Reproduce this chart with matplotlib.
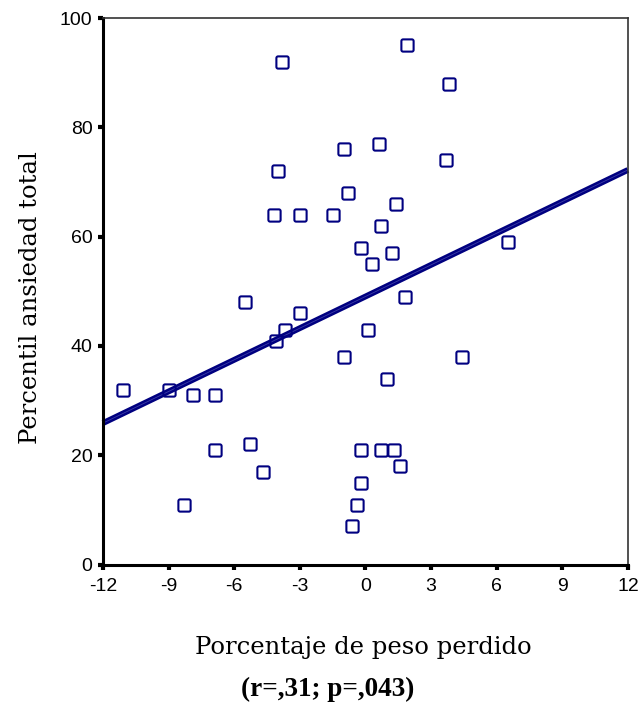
import numpy as np
import matplotlib
matplotlib.use("Agg")
import matplotlib.pyplot as plt
from matplotlib.path import Path

# Weight lost (%) and total anxiety percentile for each subject
peso_perdido = [-11.1, -9.0, -7.9, -6.9, -8.3, -6.9, -5.3, -4.7, -5.5, -4.1,
                -3.7, -3.0, -3.8, -4.0, -4.2, -3.0, -1.5, -1.0, -0.8, -1.0,
                -0.2, 0.3, 0.7, 0.6, 1.4, 1.2, 1.8, 0.1, 1.0, -0.2,
                -0.2, -0.4, -0.6, 0.7, 1.3, 1.6, 1.9, 3.8, 3.7, 4.4, 6.5]
ansiedad_total = [32, 32, 31, 31, 11, 21, 22, 17, 48, 41,
                  43, 46, 92, 72, 64, 64, 64, 76, 68, 38,
                  58, 55, 62, 77, 66, 57, 49, 43, 34, 21,
                  15, 11, 7, 21, 21, 18, 95, 88, 74, 38, 59]

# Least-squares fit line (intercept, slope)
fit_intercept = 49.05
fit_slope = 1.93

x_ticks = [-12, -9, -6, -3, 0, 3, 6, 9, 12]
y_ticks = [0, 20, 40, 60, 80, 100]

navy = "#000080"

# Hollow square marker with rounded corners
def rounded_square(r=0.28, n=8):
    verts = []
    corners = [(1 - r, 1 - r, 0), (-1 + r, 1 - r, 90),
               (-1 + r, -1 + r, 180), (1 - r, -1 + r, 270)]
    for cx, cy, a0 in corners:
        for t in np.linspace(np.radians(a0), np.radians(a0 + 90), n):
            verts.append((cx + r * np.cos(t), cy + r * np.sin(t)))
    verts.append(verts[0])
    codes = [Path.MOVETO] + [Path.LINETO] * (len(verts) - 2) + [Path.CLOSEPOLY]
    return Path(verts, codes)

fig = plt.figure(figsize=(6.42, 7.08), dpi=100)
ax = fig.add_axes([0.1604, 0.2025, 0.8176, 0.772])

ax.set_xlim(-12, 12)
ax.set_ylim(0, 100)

xs = np.array(x_ticks[::len(x_ticks) - 1], dtype=float)
ys = fit_intercept + fit_slope * xs
ax.plot(xs, ys, color=navy, lw=4.2, solid_capstyle="butt", zorder=2, clip_on=False)
ax.plot(xs, ys, color="#3c3ca8", lw=0.6, solid_capstyle="butt", zorder=2.1, clip_on=False)

ax.plot(peso_perdido, ansiedad_total, linestyle="none", marker=rounded_square(),
        markersize=8.8, markerfacecolor="none", markeredgecolor=navy,
        markeredgewidth=1.5, zorder=3)

ax.set_xticks(x_ticks)
ax.set_yticks(y_ticks)
ax.set_xticklabels([str(v) for v in x_ticks])
ax.set_yticklabels([str(v) for v in y_ticks])
ax.tick_params(direction="out", length=3.5, width=3, color="black", labelsize=14)
ax.tick_params(axis="x", pad=6)
ax.tick_params(axis="y", pad=4)
for lab in ax.get_xticklabels() + ax.get_yticklabels():
    lab.set_fontfamily("Liberation Sans")

for side in ("left", "bottom"):
    ax.spines[side].set_linewidth(2.2)
for side in ("top", "right"):
    ax.spines[side].set_linewidth(1.2)
    ax.spines[side].set_color("#333333")

fig.text(0.047, 0.58, "Percentil ansiedad total", rotation=90, ha="center",
         va="center", fontsize=17.5, family="DejaVu Serif")
fig.text(0.566, 0.085, "Porcentaje de peso perdido", ha="center", va="center",
         fontsize=17.5, family="DejaVu Serif")
fig.text(0.511, 0.026, "(r=,31; p=,043)", ha="center", va="center",
         fontsize=19.5, fontweight="bold", family="Liberation Serif")

fig.savefig("out.png", dpi=100)
